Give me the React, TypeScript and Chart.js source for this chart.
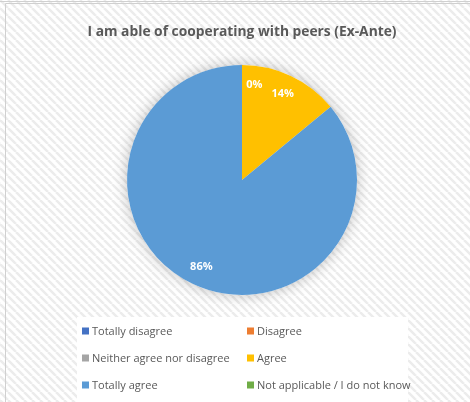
import React, { useEffect, useRef } from "react";
import { Chart, registerables } from "chart.js";

Chart.register(...registerables);

const TITLE = "I am able of cooperating with peers (Ex-Ante)";
const categories = [
  "Totally disagree",
  "Disagree",
  "Neither agree nor disagree",
  "Agree",
  "Totally agree",
  "Not applicable / I do not know",
];
const values = [0, 0, 0, 14, 86, 0];
const colors = ["#4472C4", "#ED7D31", "#A5A5A5", "#FFC000", "#5B9BD5", "#70AD47"];

function makePattern(ctx: CanvasRenderingContext2D) {
  const c = document.createElement("canvas");
  c.width = 8;
  c.height = 8;
  const g = c.getContext("2d")!;
  g.fillStyle = "#ffffff";
  g.fillRect(0, 0, 8, 8);
  g.strokeStyle = "#ececec";
  g.lineWidth = 2.5;
  for (let k = -8; k <= 16; k += 8) {
    g.beginPath();
    g.moveTo(k, 0);
    g.lineTo(k + 8, 8);
    g.stroke();
  }
  return ctx.createPattern(c, "repeat");
}

const bgPlugin = {
  id: "bgPlugin",
  beforeDraw(chart: any) {
    const { ctx, width, height } = chart;
    ctx.save();
    ctx.fillStyle = makePattern(ctx) || "#f4f4f4";
    ctx.fillRect(0, 0, width, height);
    ctx.strokeStyle = "#d0d0d0";
    ctx.lineWidth = 1;
    ctx.beginPath();
    ctx.moveTo(0, 1.5);
    ctx.lineTo(width, 1.5);
    ctx.moveTo(5.5, 3.5);
    ctx.lineTo(width, 3.5);
    ctx.moveTo(5.5, 3.5);
    ctx.lineTo(5.5, height);
    ctx.stroke();
    // title
    ctx.fillStyle = "#595959";
    ctx.font = "bold 13.8px 'Open Sans', sans-serif";
    ctx.textAlign = "center";
    ctx.textBaseline = "middle";
    ctx.fillText(TITLE, 242, 32);
    // legend box
    ctx.fillStyle = "#ffffff";
    ctx.fillRect(77, 317, 331, 85);
    ctx.font = "11px 'Open Sans', sans-serif";
    ctx.textAlign = "left";
    const colX = [82, 247];
    const rowY = [331, 358, 385];
    categories.forEach((c, i) => {
      const x = colX[i % 2];
      const y = rowY[Math.floor(i / 2)];
      ctx.fillStyle = colors[i];
      ctx.fillRect(x, y - 3.5, 7, 7);
      ctx.fillStyle = "#595959";
      ctx.fillText(c, x + 10, y + 0.5);
    });
    ctx.restore();
  },
  beforeDatasetsDraw(chart: any) {
    const meta = chart.getDatasetMeta(0);
    const arc = meta.data[0];
    if (!arc) return;
    const { ctx } = chart;
    ctx.save();
    ctx.shadowColor = "rgba(0,0,0,0.25)";
    ctx.shadowBlur = 14;
    ctx.fillStyle = "#ffffff";
    ctx.beginPath();
    ctx.arc(arc.x, arc.y, arc.outerRadius, 0, Math.PI * 2);
    ctx.fill();
    ctx.restore();
  },
  afterDatasetsDraw(chart: any) {
    const meta = chart.getDatasetMeta(0);
    const { ctx } = chart;
    const total = values.reduce((a, b) => a + b, 0);
    ctx.save();
    ctx.fillStyle = "#ffffff";
    ctx.font = "bold 11px 'Open Sans', sans-serif";
    ctx.textAlign = "center";
    ctx.textBaseline = "middle";
    let zeroDrawn = false;
    meta.data.forEach((a: any, i: number) => {
      const pct = Math.round((values[i] / total) * 100) + "%";
      let ang = (a.startAngle + a.endAngle) / 2;
      const r = a.outerRadius * 0.83;
      if (values[i] === 0) {
        if (zeroDrawn) return;
        zeroDrawn = true;
        ang = -Math.PI / 2 + 0.13;
      }
      ctx.fillText(pct, a.x + Math.cos(ang) * r, a.y + Math.sin(ang) * r);
    });
    ctx.restore();
  },
};

export default function App() {
  const ref = useRef<HTMLCanvasElement>(null);
  useEffect(() => {
    const chart = new Chart(ref.current!, {
      type: "pie",
      data: {
        labels: categories,
        datasets: [
          {
            data: values,
            backgroundColor: colors,
            borderWidth: 0,
          },
        ],
      },
      options: {
        animation: false,
        responsive: false,
        maintainAspectRatio: false,
        layout: { padding: { top: 65, bottom: 107, left: 127, right: 113 } },
        plugins: {
          legend: { display: false },
          title: { display: false },
          tooltip: { enabled: false },
        },
      },
      plugins: [bgPlugin],
    });
    return () => chart.destroy();
  }, []);
  return (
    <div style={{ position: "fixed", left: 0, top: 0, width: 470, height: 402 }}>
      <canvas ref={ref} width={470} height={402} />
    </div>
  );
}
